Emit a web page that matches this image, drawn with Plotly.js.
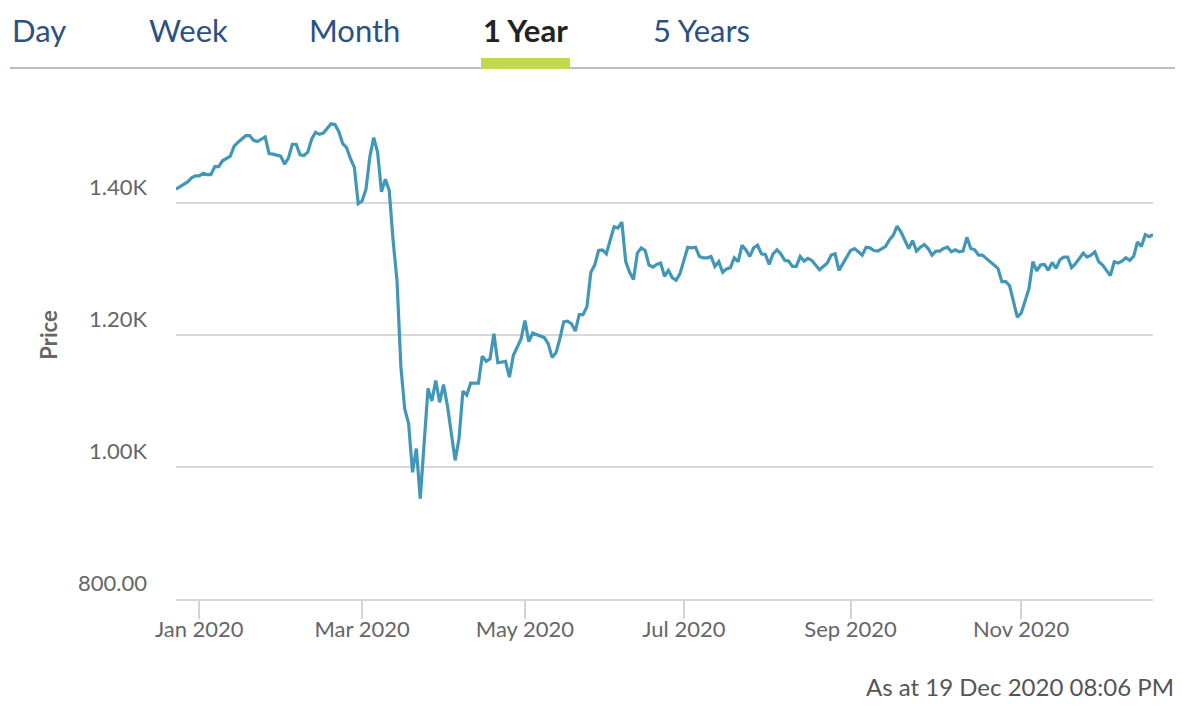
<!DOCTYPE html>
<html>
<head>
<meta charset="utf-8">
<script src="https://cdn.plot.ly/plotly-3.0.1.min.js"></script>
<style>
  html, body { margin: 0; padding: 0; background: #ffffff; }
  #chart { width: 1182px; height: 710px; }
</style>
</head>
<body>
<div id="chart"></div>
<script>
// ---- data ----
const tabs = ['Day', 'Week', 'Month', '1 Year', '5 Years'];
const activeTab = '1 Year';
const asAtText = 'As at 19 Dec 2020 08:06 PM';
const yAxisTitle = 'Price';

const yTickVals = [800, 1000, 1200, 1400];
const yTickText = ['800.00', '1.00K', '1.20K', '1.40K'];
const xTickVals = ['2020-01-02', '2020-03-02', '2020-05-01', '2020-07-01', '2020-09-01', '2020-11-02'];
const xTickText = ['Jan 2020', 'Mar 2020', 'May 2020', 'Jul 2020', 'Sep 2020', 'Nov 2020'];
const marketHolidays = ['2019-12-25', '2019-12-26', '2020-01-01', '2020-04-10', '2020-04-13', '2020-05-08', '2020-05-25', '2020-08-31'];

const dates = [
  '2019-12-20','2019-12-23','2019-12-27','2019-12-30','2019-12-31',
  '2020-01-02','2020-01-03','2020-01-06','2020-01-07','2020-01-08','2020-01-09','2020-01-10','2020-01-14','2020-01-15','2020-01-16','2020-01-20','2020-01-21','2020-01-22','2020-01-23','2020-01-27','2020-01-28','2020-01-29','2020-01-31',
  '2020-02-03','2020-02-04','2020-02-05','2020-02-06','2020-02-07','2020-02-10','2020-02-11','2020-02-12','2020-02-13','2020-02-14','2020-02-17','2020-02-18','2020-02-19','2020-02-20','2020-02-21','2020-02-24','2020-02-25','2020-02-26','2020-02-27','2020-02-28',
  '2020-03-02','2020-03-03','2020-03-04','2020-03-05','2020-03-06','2020-03-09','2020-03-10','2020-03-11','2020-03-12','2020-03-13','2020-03-16','2020-03-17','2020-03-18','2020-03-19','2020-03-20','2020-03-23','2020-03-24','2020-03-25','2020-03-26','2020-03-27','2020-03-30','2020-03-31',
  '2020-04-01','2020-04-02','2020-04-03','2020-04-06','2020-04-07','2020-04-08','2020-04-09','2020-04-15','2020-04-16','2020-04-17','2020-04-20','2020-04-21','2020-04-22','2020-04-24','2020-04-27','2020-04-28','2020-04-29','2020-04-30',
  '2020-05-01','2020-05-04','2020-05-05','2020-05-06','2020-05-11','2020-05-12','2020-05-13','2020-05-14','2020-05-15','2020-05-18','2020-05-19','2020-05-20','2020-05-21','2020-05-22','2020-05-26','2020-05-27','2020-05-28','2020-05-29',
  '2020-06-01','2020-06-02','2020-06-03','2020-06-04','2020-06-05','2020-06-08','2020-06-09','2020-06-10','2020-06-11','2020-06-12','2020-06-15','2020-06-16','2020-06-17','2020-06-18','2020-06-19','2020-06-22','2020-06-23','2020-06-24','2020-06-25','2020-06-26','2020-06-29','2020-06-30',
  '2020-07-01','2020-07-02','2020-07-03','2020-07-06','2020-07-07','2020-07-08','2020-07-09','2020-07-10','2020-07-13','2020-07-14','2020-07-15','2020-07-16','2020-07-17','2020-07-20','2020-07-21','2020-07-22','2020-07-23','2020-07-24','2020-07-27','2020-07-28','2020-07-29','2020-07-30','2020-07-31',
  '2020-08-03','2020-08-04','2020-08-05','2020-08-06','2020-08-07','2020-08-10','2020-08-11','2020-08-12','2020-08-13','2020-08-14','2020-08-17','2020-08-19','2020-08-20','2020-08-21','2020-08-24','2020-08-25','2020-08-26','2020-08-27','2020-08-28',
  '2020-09-01','2020-09-02','2020-09-03','2020-09-04','2020-09-07','2020-09-08','2020-09-09','2020-09-10','2020-09-14','2020-09-15','2020-09-16','2020-09-17','2020-09-18','2020-09-21','2020-09-22','2020-09-23','2020-09-24','2020-09-25','2020-09-28','2020-09-29','2020-09-30',
  '2020-10-01','2020-10-02','2020-10-05','2020-10-06','2020-10-07','2020-10-08','2020-10-09','2020-10-12','2020-10-13','2020-10-14','2020-10-15','2020-10-16','2020-10-19','2020-10-20','2020-10-21','2020-10-22','2020-10-23','2020-10-26','2020-10-27','2020-10-28','2020-10-29','2020-10-30',
  '2020-11-02','2020-11-03','2020-11-04','2020-11-05','2020-11-06','2020-11-09','2020-11-10','2020-11-11','2020-11-12','2020-11-13','2020-11-16','2020-11-17','2020-11-18','2020-11-19','2020-11-20','2020-11-23','2020-11-24','2020-11-25','2020-11-26','2020-11-27','2020-11-30',
  '2020-12-01','2020-12-02','2020-12-03','2020-12-04','2020-12-07','2020-12-08','2020-12-09','2020-12-10','2020-12-11','2020-12-14','2020-12-15','2020-12-16','2020-12-17','2020-12-18'
];

const prices = [
  1421,1425,1432,1438,1441,
  1441,1445,1443,1443,1455,1455,1464,1471,1486,1492,1502,1502,1495,1493,1500,1475,1474,1471,
  1459,1468,1489,1489,1473,1472,1477,1497,1507,1504,1506,1513,1520,1519,1508,1490,1484,1467,1454,1399,
  1403,1421,1470,1499,1477,1417,1436,1419,1343,1283,1152,1088,1066,992,1028,952,1030,1119,1100,1131,1098,1125,
  1093,1051,1010,1043,1115,1109,1127,1127,1168,1160,1164,1202,1158,1160,1136,1169,1182,1194,
  1222,1190,1203,1201,1196,1187,1166,1173,1194,1220,1221,1217,1206,1231,1231,1243,1295,1306,
  1328,1329,1323,1344,1364,1362,1371,1311,1295,1284,1324,1332,1328,1306,1303,1307,1309,1289,1298,1287,1283,1293,
  1314,1333,1332,1333,1319,1317,1317,1319,1304,1311,1295,1300,1302,1317,1311,1336,1329,1319,1332,1336,1323,1322,1307,
  1323,1329,1323,1313,1312,1304,1304,1319,1312,1316,1313,1299,1304,1309,1321,1323,1298,1307,1318,
  1328,1331,1326,1321,1333,1332,1328,1327,1334,1344,1351,1365,1356,1342,1331,1343,1327,1333,1337,1331,1321,
  1327,1327,1331,1333,1326,1329,1326,1327,1348,1331,1329,1321,1321,1316,1312,1307,1301,1281,1281,1275,1250,1227,
  1233,1253,1270,1311,1297,1306,1307,1298,1310,1301,1314,1318,1318,1302,1308,1316,1324,1318,1321,1326,1311,
  1306,1297,1290,1311,1309,1312,1317,1313,1319,1341,1334,1352,1349,1352
];

// ---- layout helpers (pixel -> paper coordinates) ----
const W = 1182, H = 710;
const M = { l: 176, r: 29, t: 71, b: 111 };
const plotW = W - M.l - M.r, plotH = H - M.t - M.b;
const px = x => (x - M.l) / plotW;
const py = y => (H - M.b - y) / plotH;

const tabLeft = [10, 147, 307, 481, 651];
const tabAnnotations = tabs.map((t, i) => ({
  text: t === activeTab ? '<b>' + t + '</b>' : t,
  xref: 'paper', yref: 'paper',
  x: px(tabLeft[i]), y: py(30),
  xanchor: 'left', yanchor: 'middle',
  showarrow: false,
  font: { family: 'Lato, sans-serif', size: 31, color: t === activeTab ? '#222222' : '#2b5184' }
}));

const trace = {
  type: 'scatter',
  mode: 'lines',
  x: dates,
  y: prices,
  line: { color: '#4297b7', width: 3.2 },
  hoverinfo: 'x+y'
};

const layout = {
  width: W, height: H,
  margin: M,
  paper_bgcolor: '#ffffff',
  plot_bgcolor: '#ffffff',
  showlegend: false,
  font: { family: 'Lato, sans-serif', color: '#666666' },
  xaxis: {
    type: 'date',
    range: [dates[0], dates[dates.length - 1]],
    rangebreaks: [
      { bounds: ['sat', 'mon'] },
      { values: marketHolidays }
    ],
    tickmode: 'array',
    tickvals: xTickVals,
    ticktext: xTickText,
    ticks: 'outside',
    ticklen: 18,
    tickwidth: 1.5,
    tickcolor: '#d4d4d4',
    ticklabelstandoff: -8,
    showgrid: false,
    zeroline: false,
    showline: true,
    linecolor: '#d8d8d8',
    linewidth: 2,
    tickfont: { family: 'Lato, sans-serif', size: 22, color: '#666666' },
    fixedrange: true
  },
  yaxis: {
    range: [800, 1600],
    tickmode: 'array',
    tickvals: yTickVals,
    ticktext: yTickText,
    ticklabelposition: 'outside top',
    ticklabelstandoff: 28,
    showgrid: true,
    gridcolor: '#d8d8d8',
    gridwidth: 2,
    zeroline: false,
    showline: false,
    tickfont: { family: 'Lato, sans-serif', size: 22, color: '#666666' },
    title: {
      text: '<b>' + yAxisTitle + '</b>',
      standoff: 14,
      font: { family: 'Lato, sans-serif', size: 22, color: '#666666' }
    },
    fixedrange: true
  },
  shapes: [
    { type: 'line', xref: 'paper', yref: 'paper', x0: px(10), x1: px(1175), y0: py(68), y1: py(68),
      line: { color: '#b7bed0', width: 2 } },
    { type: 'rect', xref: 'paper', yref: 'paper', x0: px(481), x1: px(570), y0: py(69), y1: py(58),
      fillcolor: '#c5d74f', line: { width: 0 } }
  ],
  annotations: tabAnnotations.concat([{
    text: asAtText,
    xref: 'paper', yref: 'paper',
    x: px(1176), y: py(686),
    xanchor: 'right', yanchor: 'middle',
    showarrow: false,
    font: { family: 'Lato, sans-serif', size: 24, color: '#555555' }
  }])
};

Plotly.newPlot('chart', [trace], layout, { displayModeBar: false, staticPlot: false });
</script>
</body>
</html>
